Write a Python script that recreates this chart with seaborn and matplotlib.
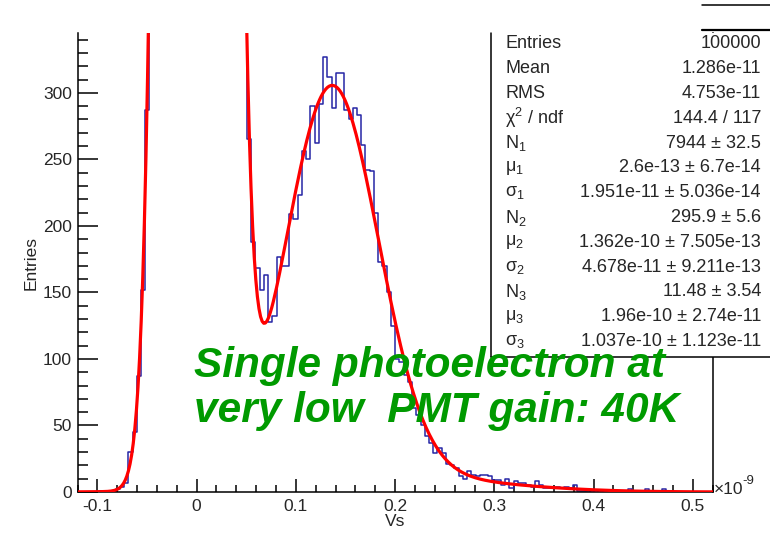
import numpy as np
import pandas as pd
import matplotlib
matplotlib.use("Agg")
import matplotlib.pyplot as plt
import seaborn as sns
from matplotlib.patches import Rectangle
from matplotlib.lines import Line2D
from matplotlib.ticker import FixedLocator, MultipleLocator

# histogram: 150 bins from -0.12 to 0.52 (x 1e-9 Vs)
x_lo, x_hi, n_bins = -0.12, 0.52, 150
counts = [
    0, 0, 0, 0, 0, 1, 0, 1, 1, 2,
    4, 7, 30, 45, 87, 152, 287, 515, 850, 1290,
    1950, 2710, 3690, 4680, 5760, 6670, 7440, 7830, 7950, 7600,
    7010, 6090, 5110, 4060, 3080, 2230, 1550, 1020, 680, 425,
    265, 188, 168, 152, 163, 128, 132, 177, 170, 170,
    209, 205, 223, 256, 250, 290, 262, 292, 327, 312,
    289, 315, 315, 287, 280, 289, 283, 261, 242, 241,
    210, 173, 170, 150, 125, 100, 98, 88, 83, 63,
    58, 50, 42, 37, 29, 33, 29, 21, 20, 18,
    12, 10, 16, 13, 12, 13, 13, 12, 9, 9,
    5, 10, 3, 8, 7, 7, 5, 4, 8, 5,
    3, 3, 3, 4, 3, 4, 3, 5, 1, 1,
    1, 0, 1, 0, 1, 0, 1, 1, 0, 0,
    2, 0, 0, 1, 2, 0, 1, 0, 2, 0,
    0, 0, 0, 0, 0, 0, 0, 0, 0, 0,
]

# fit parameters (three gaussians), as printed in the stats box
fit_N = [7944, 295.9, 11.48]
fit_mu = [2.6e-13, 1.362e-10, 1.96e-10]
fit_sigma = [1.951e-11, 4.678e-11, 1.037e-10]

stat_labels = ["Entries", "Mean", "RMS", r"$\mathregular{\chi^{2}}$ / ndf",
               r"$\mathregular{N_{1}}$", r"$\mathregular{μ_{1}}$", r"$\mathregular{σ_{1}}$",
               r"$\mathregular{N_{2}}$", r"$\mathregular{μ_{2}}$", r"$\mathregular{σ_{2}}$",
               r"$\mathregular{N_{3}}$", r"$\mathregular{μ_{3}}$", r"$\mathregular{σ_{3}}$"]
stat_values = ["100000", "1.286e-11", "4.753e-11", "144.4 / 117",
               "7944 ± 32.5", "2.6e-13 ± 6.7e-14", "1.951e-11 ± 5.036e-14",
               "295.9 ± 5.6", "1.362e-10 ± 7.505e-13", "4.678e-11 ± 9.211e-13",
               "11.48 ± 3.54", "1.96e-10 ± 2.74e-11", "1.037e-10 ± 1.123e-11"]

x_ticks = [-0.1, 0, 0.1, 0.2, 0.3, 0.4, 0.5]
x_ticklabels = ["-0.1", "0", "0.1", "0.2", "0.3", "0.4", "0.5"]
y_ticks = [0, 50, 100, 150, 200, 250, 300]

annotation = ["Single photoelectron at", "very low  PMT gain: 40K"]

sns.set_style("white")
plt.rcParams["font.family"] = ["Liberation Sans", "DejaVu Sans"]
plt.rcParams["mathtext.fontset"] = "custom"
plt.rcParams["mathtext.rm"] = "Liberation Sans"
plt.rcParams["mathtext.it"] = "Liberation Sans:italic"
plt.rcParams["axes.unicode_minus"] = False

W, H = 770, 533
def fx(px):
    return px / W
def fy(py):
    return 1 - py / H

fig = plt.figure(figsize=(7.7, 5.33), dpi=100)
ax = fig.add_axes([fx(77.5), fy(492), fx(712.7) - fx(77.5), fy(33) - fy(492)])

edges = np.linspace(x_lo, x_hi, n_bins + 1)
hist_df = pd.DataFrame({"Vs": 0.5 * (edges[:-1] + edges[1:]), "count": counts})
sns.histplot(data=hist_df, x="Vs", weights="count", bins=n_bins, binrange=(x_lo, x_hi),
             element="step", fill=False, color="#2626a6", linewidth=1.1, ax=ax)

# fitted curve: sum of the three gaussians
xf = np.linspace(x_lo, x_hi, 400)
yf = np.zeros_like(xf)
for n, m, s in zip(fit_N, fit_mu, fit_sigma):
    yf += n * np.exp(-0.5 * ((xf - m * 1e9) / (s * 1e9)) ** 2)
sns.lineplot(x=xf, y=yf, color="red", linewidth=2.3, ax=ax, zorder=3)

ax.set_xlim(x_lo, x_hi)
ax.set_ylim(0, 345)
ax.spines["top"].set_visible(False)
for sp in ["left", "bottom", "right"]:
    ax.spines[sp].set_linewidth(1.1)
    ax.spines[sp].set_color("black")

ax.xaxis.set_major_locator(FixedLocator(x_ticks))
ax.set_xticklabels(x_ticklabels)
ax.xaxis.set_minor_locator(MultipleLocator(0.02))
ax.yaxis.set_major_locator(FixedLocator(y_ticks))
ax.yaxis.set_minor_locator(MultipleLocator(10))
ax.tick_params(axis="x", which="major", direction="in", length=9.5, width=1.1,
               labelsize=12.5, pad=5, bottom=True, top=False, color="black")
ax.tick_params(axis="x", which="minor", direction="in", length=5, width=1.1,
               bottom=True, top=False, color="black")
ax.tick_params(axis="y", which="major", direction="in", length=14.5, width=1.1,
               labelsize=12.5, pad=4, left=True, right=False, color="black")
ax.tick_params(axis="y", which="minor", direction="in", length=7.2, width=1.1,
               left=True, right=False, color="black")
ax.set_xlabel("Vs", fontsize=12.5, labelpad=0)
ax.set_ylabel("Entries", fontsize=12.5, labelpad=3)

fig.text(fx(714), fy(494), "×10", fontsize=12.5, va="baseline")
fig.text(fx(742), fy(484), "-9", fontsize=9.5, va="baseline")

# stats box
fig.add_artist(Rectangle((fx(491), fy(357)), 1.0, fy(33) - fy(357),
                         transform=fig.transFigure, facecolor="white",
                         edgecolor="none", zorder=5))
fig.add_artist(Line2D([fx(491), fx(491)], [fy(33), fy(357)], color="black",
                      linewidth=1.1, transform=fig.transFigure, zorder=6))
fig.add_artist(Line2D([fx(491), 1.0], [fy(357), fy(357)], color="black",
                      linewidth=1.1, transform=fig.transFigure, zorder=6))
fig.add_artist(Line2D([fx(702), 1.0], [fy(5), fy(5)], color="black",
                      linewidth=1.1, transform=fig.transFigure, zorder=6))
fig.add_artist(Line2D([fx(702), 1.0], [fy(30), fy(30)], color="black",
                      linewidth=1.6, transform=fig.transFigure, zorder=6))

for i, (lab, val) in enumerate(zip(stat_labels, stat_values)):
    ypix = 44 + 24.8 * i
    fig.text(fx(505), fy(ypix), lab, fontsize=13, va="center", ha="left", zorder=7)
    fig.text(fx(761), fy(ypix), val, fontsize=13, va="center", ha="right", zorder=7)

# green annotation
for line, base in zip(annotation, [376.7, 421.7]):
    fig.text(fx(194), fy(base), line, fontsize=30.5, fontweight="bold",
             fontstyle="italic", color="#009a00", va="baseline", ha="left", zorder=8)

fig.savefig("out.png", dpi=100)
plt.close(fig)
